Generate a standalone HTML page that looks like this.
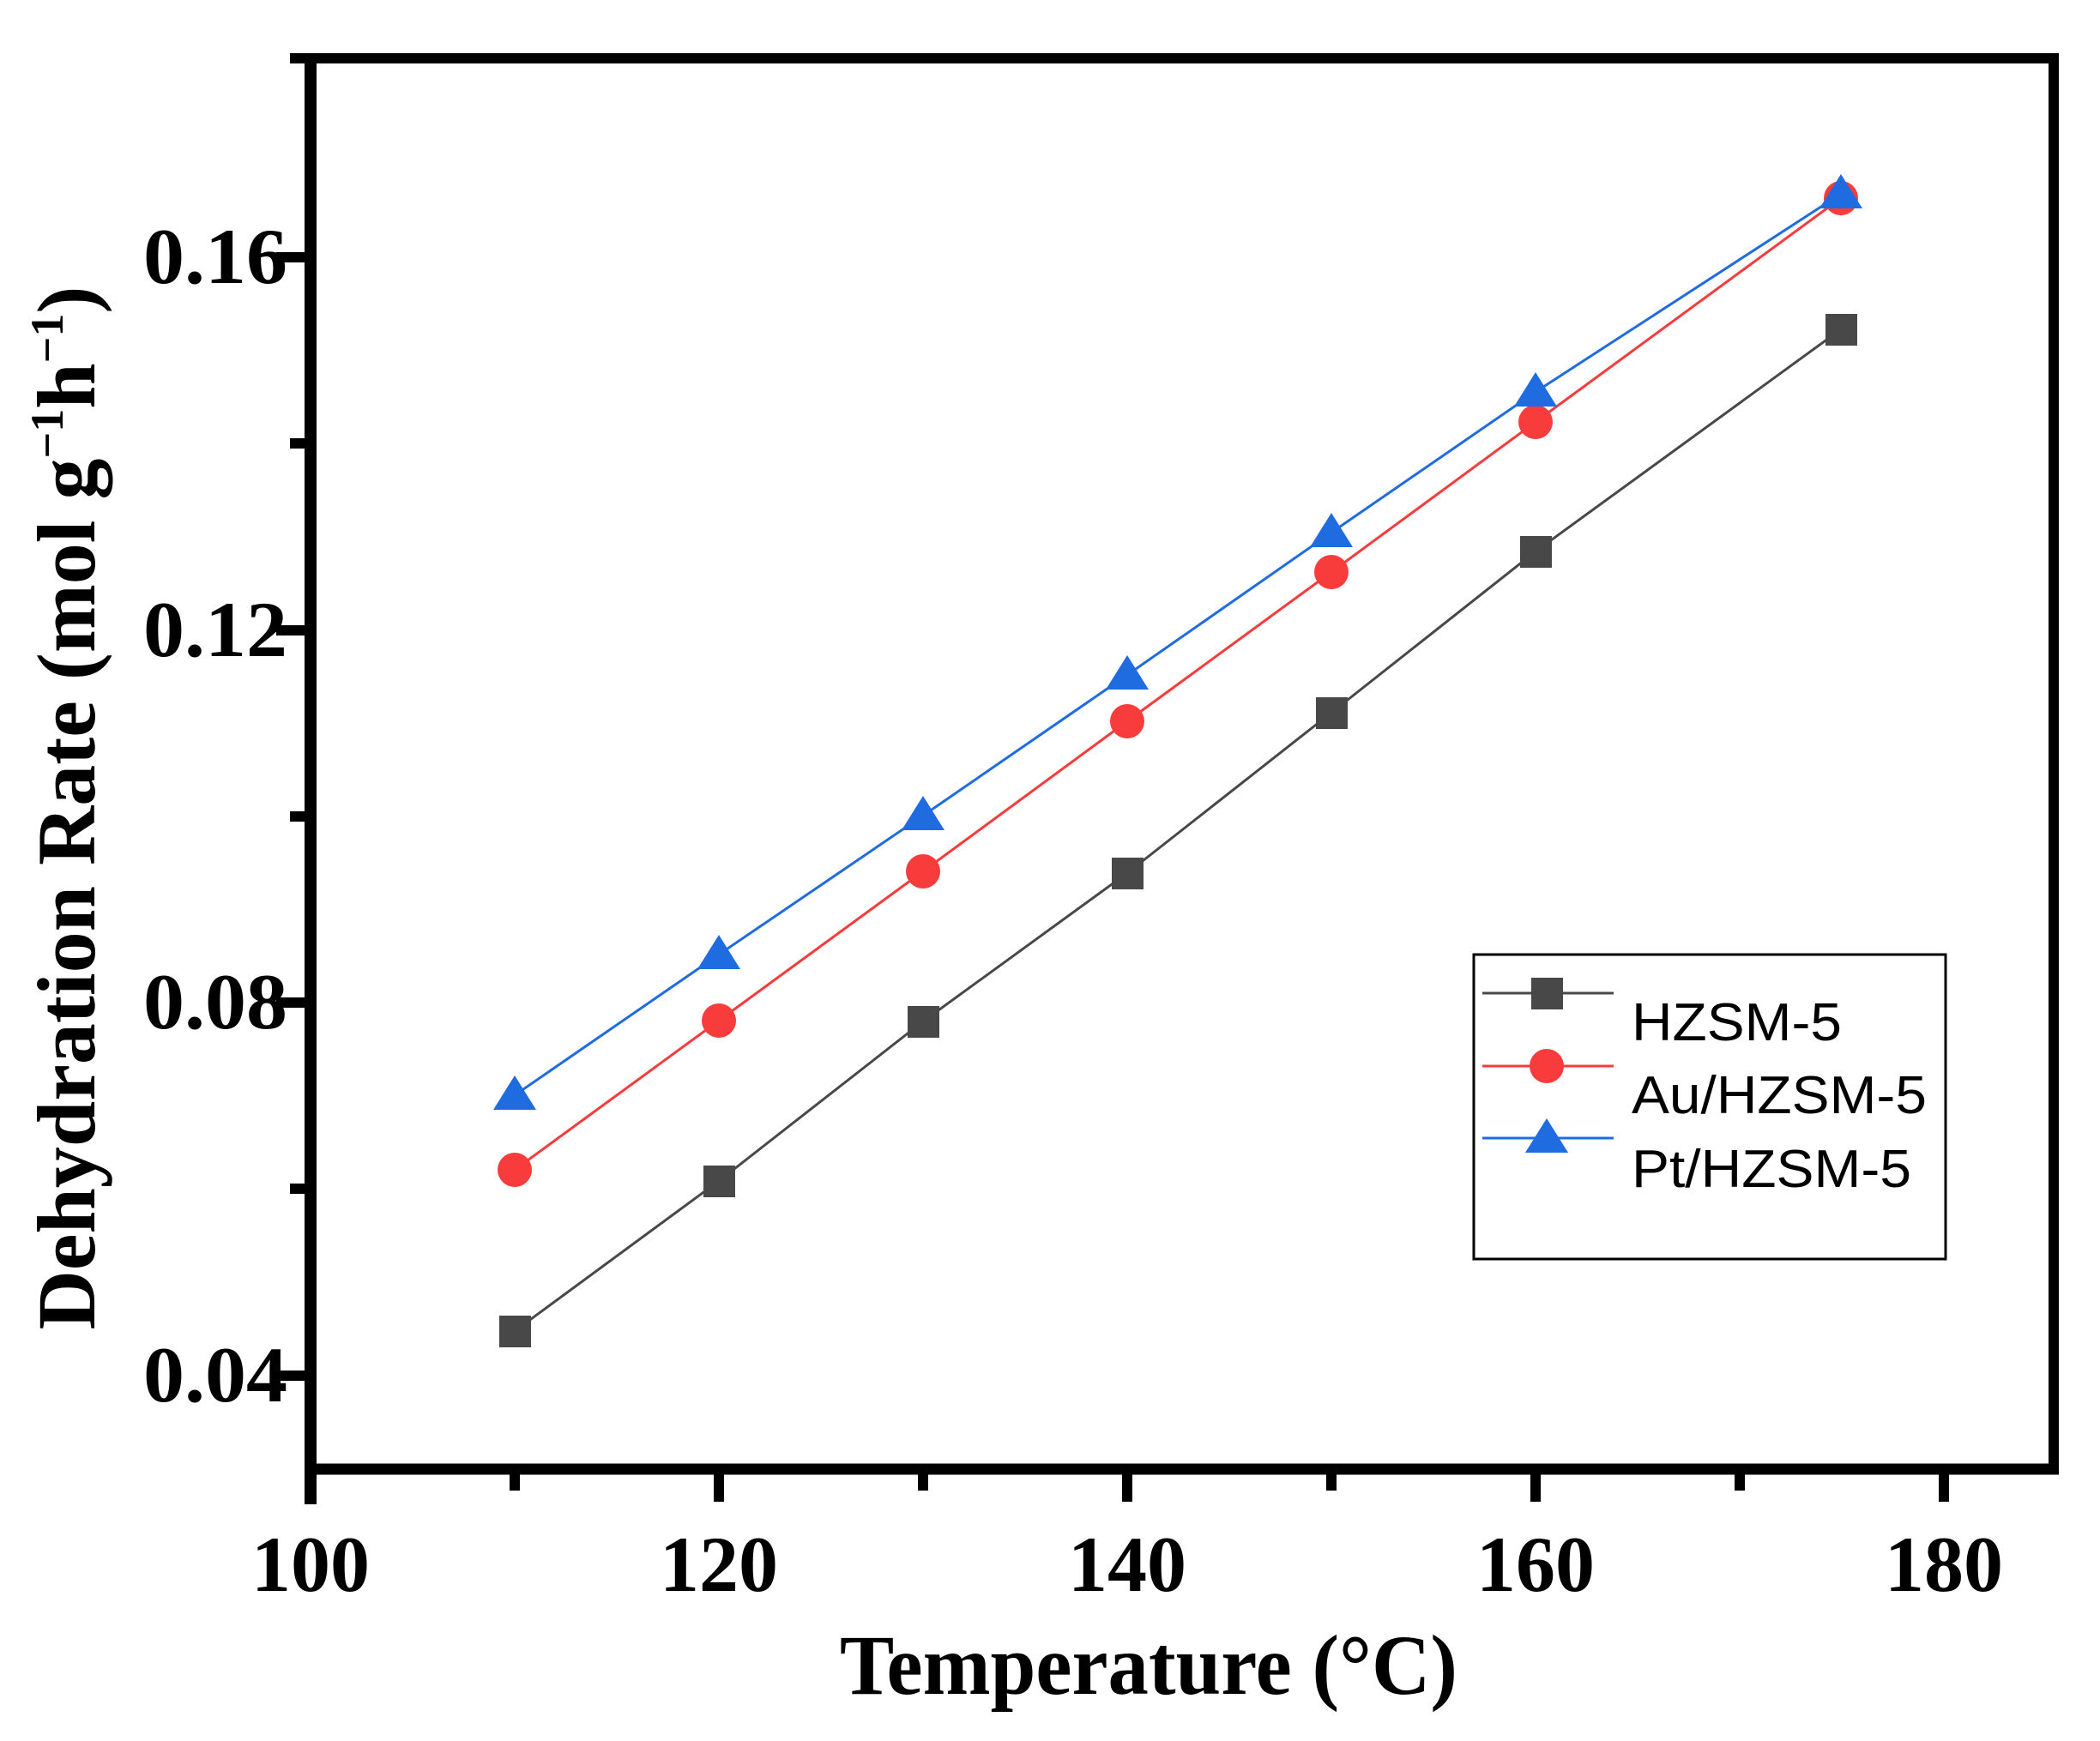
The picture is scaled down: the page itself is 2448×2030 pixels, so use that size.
<!DOCTYPE html>
<html><head><meta charset="utf-8"><style>html,body{margin:0;padding:0;background:#fff}</style></head>
<body>
<svg width="2448" height="2025" xmlns="http://www.w3.org/2000/svg">
<rect width="2448" height="2025" fill="#fff"/>
<g stroke="#000" fill="none">
<line x1="338" y1="68" x2="2400" y2="68" stroke-width="12"/>
<line x1="2394" y1="62" x2="2394" y2="1719" stroke-width="12"/>
<line x1="362" y1="62" x2="362" y2="1754" stroke-width="14"/>
<line x1="356" y1="1713" x2="2400" y2="1713" stroke-width="13"/>
<g stroke-width="12">
<line x1="838" y1="1713" x2="838" y2="1751"/>
<line x1="1314" y1="1713" x2="1314" y2="1751"/>
<line x1="1790" y1="1713" x2="1790" y2="1751"/>
<line x1="2266" y1="1713" x2="2266" y2="1751"/>
<line x1="600" y1="1713" x2="600" y2="1738"/>
<line x1="1076" y1="1713" x2="1076" y2="1738"/>
<line x1="1552" y1="1713" x2="1552" y2="1738"/>
<line x1="2028" y1="1713" x2="2028" y2="1738"/>
<line x1="322" y1="1604" x2="362" y2="1604"/>
<line x1="322" y1="1169" x2="362" y2="1169"/>
<line x1="322" y1="735" x2="362" y2="735"/>
<line x1="322" y1="300" x2="362" y2="300"/>
<line x1="338" y1="1386" x2="362" y2="1386"/>
<line x1="338" y1="952" x2="362" y2="952"/>
<line x1="338" y1="517" x2="362" y2="517"/>
</g>
</g>
<g font-family="Liberation Serif, serif" font-weight="bold" font-size="92" fill="#000">
<g text-anchor="end">
<text x="335" y="1634" textLength="168" lengthAdjust="spacingAndGlyphs">0.04</text>
<text x="335" y="1199" textLength="168" lengthAdjust="spacingAndGlyphs">0.08</text>
<text x="335" y="765" textLength="168" lengthAdjust="spacingAndGlyphs">0.12</text>
<text x="335" y="330" textLength="168" lengthAdjust="spacingAndGlyphs">0.16</text>
</g>
<g text-anchor="middle">
<text x="362" y="1855">100</text>
<text x="838" y="1855">120</text>
<text x="1314" y="1855">140</text>
<text x="1790" y="1855">160</text>
<text x="2266" y="1855">180</text>
</g>
<text x="979" y="1975" font-size="100" textLength="720" lengthAdjust="spacingAndGlyphs">Temperature (°C)</text>
<text transform="translate(110,942) rotate(-90)" text-anchor="middle" font-size="96">Dehydration Rate (mol g<tspan font-size="54" dy="-37">−1</tspan><tspan dy="37">h</tspan><tspan font-size="54" dy="-37">−1</tspan><tspan dy="37">)</tspan></text>
</g>
<polyline fill="none" stroke="#484848" stroke-width="3" points="600,1552 838,1377 1076,1191 1314,1018 1552,831 1790,643 2146,384"/>
<polyline fill="none" stroke="#f83c3c" stroke-width="3" points="600,1364 838,1190 1076,1016 1314,841 1552,667 1790,492 2146,231"/>
<polyline fill="none" stroke="#1f6ce0" stroke-width="3" points="600,1277 838,1113 1076,951 1314,787 1552,621 1790,457 2146,226"/>
<g fill="#484848">
<rect x="582" y="1534" width="37" height="37"/><rect x="820" y="1359" width="37" height="37"/><rect x="1058" y="1173" width="37" height="37"/><rect x="1296" y="1000" width="37" height="37"/><rect x="1534" y="813" width="37" height="37"/><rect x="1772" y="625" width="37" height="37"/><rect x="2128" y="366" width="37" height="37"/>
</g>
<g fill="#f83c3c">
<circle cx="600" cy="1364" r="20"/><circle cx="838" cy="1190" r="20"/><circle cx="1076" cy="1016" r="20"/><circle cx="1314" cy="841" r="20"/><circle cx="1552" cy="667" r="20"/><circle cx="1790" cy="492" r="20"/><circle cx="2146" cy="231" r="20"/>
</g>
<g fill="#1f6ce0">
<polygon points="600,1254 575,1294 625,1294"/>
<polygon points="838,1090 813,1130 863,1130"/>
<polygon points="1076,928 1051,968 1101,968"/>
<polygon points="1314,764 1289,804 1339,804"/>
<polygon points="1552,598 1527,638 1577,638"/>
<polygon points="1790,434 1765,474 1815,474"/>
<polygon points="2146,203 2121,243 2171,243"/>
</g>
<rect x="1718" y="1113" width="550" height="355" fill="#fff" stroke="#000" stroke-width="3"/>
<line x1="1728" y1="1158" x2="1881" y2="1158" stroke="#484848" stroke-width="3"/>
<rect x="1785" y="1140" width="37" height="37" fill="#484848"/>
<line x1="1728" y1="1243" x2="1881" y2="1243" stroke="#f83c3c" stroke-width="3"/>
<circle cx="1803" cy="1243" r="20" fill="#f83c3c"/>
<line x1="1728" y1="1327" x2="1881" y2="1327" stroke="#1f6ce0" stroke-width="3"/>
<polygon points="1803,1304 1778,1344 1828,1344" fill="#1f6ce0"/>
<g font-family="Liberation Sans, sans-serif" font-size="62" fill="#000">
<text x="1902" y="1213" textLength="245" lengthAdjust="spacingAndGlyphs">HZSM-5</text>
<text x="1902" y="1298" textLength="344" lengthAdjust="spacingAndGlyphs">Au/HZSM-5</text>
<text x="1902" y="1384" textLength="326" lengthAdjust="spacingAndGlyphs">Pt/HZSM-5</text>
</g>
</svg>
</body></html>
